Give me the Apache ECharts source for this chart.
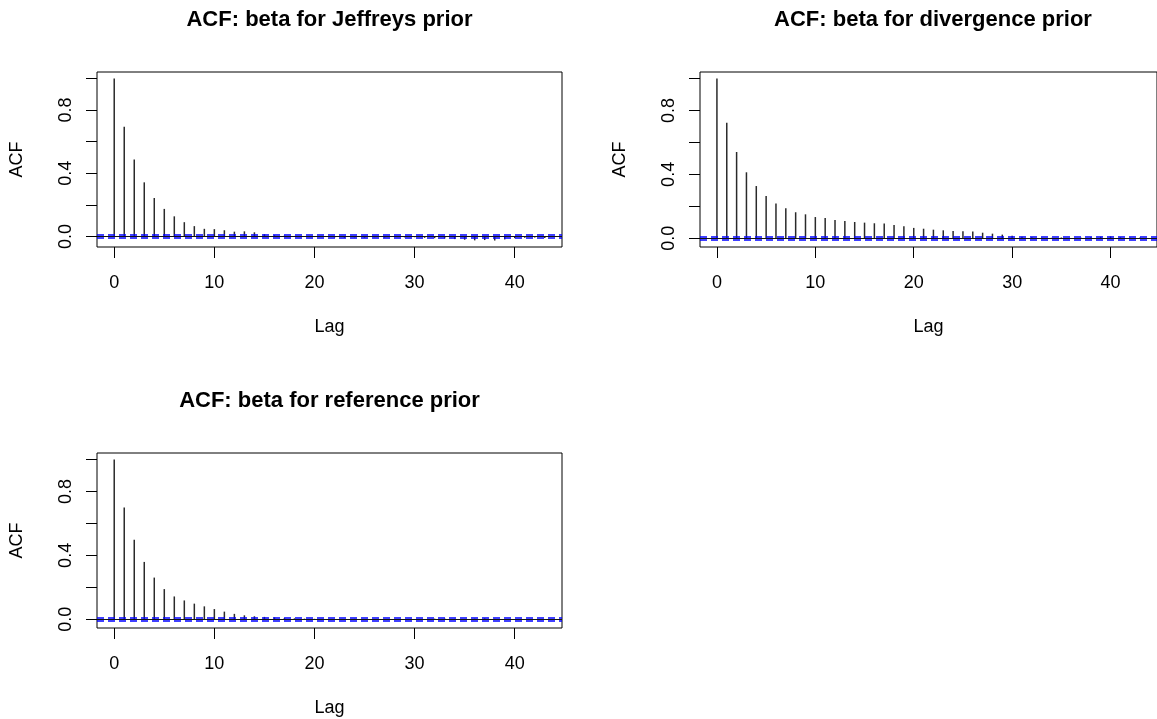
<!DOCTYPE html>
<html><head><meta charset="utf-8">
<script src="https://cdn.jsdelivr.net/npm/echarts@6/dist/echarts.min.js"></script>
<style>html,body{margin:0;padding:0;background:#fff}#c{width:1157px;height:719px}</style>
</head><body><div id="c"></div>
<script>
const lags = [0,1,2,3,4,5,6,7,8,9,10,11,12,13,14,15,16,17,18,19,20,21,22,23,24,25,26,27,28,29,30,31,32,33,34,35,36,37,38,39,40,41,42,43];
const panelTitles = ["ACF: beta for Jeffreys prior", "ACF: beta for divergence prior", "ACF: beta for reference prior"];
const xTicks = [0,10,20,30,40];
const yTicks = [0,0.2,0.4,0.6,0.8,1.0];
const yLabels = [0,0.4,0.8];
const confLimit = 0.0139;
const acfJeffreys = [1.000,0.695,0.488,0.343,0.244,0.175,0.128,0.091,0.066,0.049,0.047,0.040,0.031,0.033,0.027,0.015,0.008,0.006,0.004,0.002,
  -0.003,-0.002,-0.006,-0.008,-0.005,-0.007,-0.004,-0.006,-0.003,-0.005,-0.004,-0.008,-0.010,-0.012,-0.016,-0.020,-0.024,-0.022,-0.025,-0.018,-0.010,-0.008,-0.006,-0.009];
const acfDivergence = [1.000,0.723,0.540,0.413,0.327,0.265,0.217,0.188,0.163,0.150,0.133,0.127,0.115,0.108,0.102,0.098,0.094,0.092,0.083,0.075,
  0.065,0.060,0.054,0.050,0.046,0.044,0.042,0.035,0.029,0.023,0.016,0.009,0.006,0.004,0.003,0.005,0.002,0.004,0.007,0.010,0.012,0.006,0.004,0.005];
const acfReference = [1.000,0.699,0.498,0.359,0.261,0.189,0.143,0.118,0.098,0.081,0.064,0.048,0.034,0.025,0.019,0.015,0.012,0.008,
  0.006,0.004,0.003,0.002,-0.002,0.001,0.003,0.002,-0.001,0.001,-0.002,-0.003,0.001,0.002,0.004,0.005,0.003,0.002,0.004,0.006,0.003,-0.002,-0.004,-0.003,0.002,-0.002];

const FONT = "'Liberation Sans', Arial, Helvetica, sans-serif";
const panels = [
  {acf: acfJeffreys, grid: {left: 97, top: 72, width: 465, height: 175}, titleTop: 9},
  {acf: acfDivergence, grid: {left: 700, top: 72, width: 466, height: 175}, titleTop: 9},
  {acf: acfReference, grid: {left: 97, top: 453, width: 465, height: 175}, titleTop: 390}
];
const xMin = lags[0] - 0.04 * (lags[lags.length-1] - lags[0]);
const xMax = lags[lags.length-1] + 0.04 * (lags[lags.length-1] - lags[0]);

const option = {animation: false, backgroundColor: '#fff', title: [], grid: [], xAxis: [], yAxis: [], series: []};
panels.forEach((p, i) => {
  const lo = Math.min(Math.min(...p.acf), -confLimit), hi = Math.max(Math.max(...p.acf), confLimit);
  const ext = 0.04 * (hi - lo);
  option.title.push({text: panelTitles[i], left: p.grid.left + p.grid.width / 2, top: p.titleTop, textAlign: 'center', padding: 0,
    textStyle: {fontFamily: FONT, fontSize: 22, fontWeight: 'bold', color: '#000'}});
  option.grid.push(Object.assign({show: true, borderColor: '#000', borderWidth: 1, backgroundColor: 'transparent', containLabel: false}, p.grid));
  option.xAxis.push({type: 'value', gridIndex: i, min: xMin, max: xMax,
    axisLine: {show: false, onZero: false}, splitLine: {show: false},
    axisTick: {show: true, inside: false, customValues: xTicks, length: 11, lineStyle: {color: '#000', width: 1}},
    axisLabel: {customValues: xTicks, fontFamily: FONT, fontSize: 18, color: '#000', margin: 27},
    name: 'Lag', nameLocation: 'middle', nameGap: 71, nameTextStyle: {fontFamily: FONT, fontSize: 18, color: '#000'}});
  option.yAxis.push({type: 'value', gridIndex: i, min: lo - ext, max: hi + ext,
    axisLine: {show: false, onZero: false}, splitLine: {show: false},
    axisTick: {show: true, inside: false, customValues: yTicks, length: 11, lineStyle: {color: '#000', width: 1}},
    axisLabel: {customValues: yLabels, rotate: 90, fontFamily: FONT, fontSize: 18, color: '#000', margin: 22,
      formatter: v => v.toFixed(1)},
    name: 'ACF', nameLocation: 'middle', nameRotate: 90, nameGap: 71, nameTextStyle: {fontFamily: FONT, fontSize: 18, color: '#000'}});
  option.series.push({type: 'bar', xAxisIndex: i, yAxisIndex: i, barWidth: 1.5,
    data: lags.map((l, k) => [l, p.acf[k]]), itemStyle: {color: '#2a2a2a'}, silent: true,
    markLine: {silent: true, symbol: ['none', 'none'], label: {show: false}, animation: false, z: 5,
      data: [
        {yAxis: 0, lineStyle: {color: '#111', type: 'solid', width: 1}},
        {yAxis: confLimit, lineStyle: {color: '#0000ff', type: [7, 4], width: 1.5}},
        {yAxis: -confLimit, lineStyle: {color: '#0000ff', type: [7, 4], width: 1.5}}
      ]}});
});
echarts.init(document.getElementById('c'), null, {renderer: 'canvas'}).setOption(option);
</script>
</body></html>
